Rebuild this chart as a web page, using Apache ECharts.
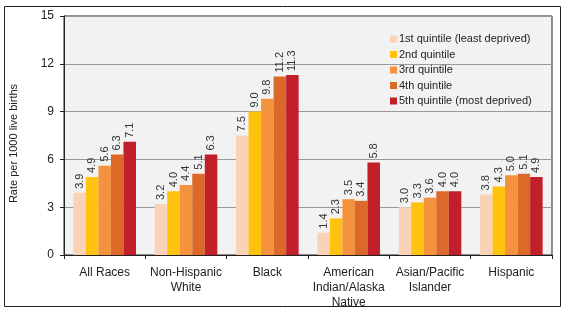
<!DOCTYPE html>
<html>
<head>
<meta charset="utf-8">
<script src="https://cdn.jsdelivr.net/npm/echarts@6/dist/echarts.min.js"></script>
<style>
  html, body { margin: 0; padding: 0; background: #fff; }
  #chart { width: 567px; height: 312px; }
</style>
</head>
<body>
<div id="chart"></div>
<script>
  // 类别与数据
  const categories = ["All Races", "Non-Hispanic\nWhite", "Black", "American\nIndian/Alaska\nNative", "Asian/Pacific\nIslander", "Hispanic"];
  const seriesNames = ["1st quintile (least deprived)", "2nd quintile", "3rd quintile", "4th quintile", "5th quintile (most deprived)"];
  const q1 = [3.9, 3.2, 7.5, 1.4, 3.0, 3.8];
  const q2 = [4.9, 4.0, 9.0, 2.3, 3.3, 4.3];
  const q3 = [5.6, 4.4, 9.8, 3.5, 3.6, 5.0];
  const q4 = [6.3, 5.1, 11.2, 3.4, 4.0, 5.1];
  const q5 = [7.1, 6.3, 11.3, 5.8, 4.0, 4.9];
  const yTicks = [0, 3, 6, 9, 12, 15];

  const colors = ["#fad3b6", "#ffc20e", "#f5923e", "#dc6829", "#c1202b"];
  const font = "'Liberation Sans Narrow', 'Liberation Sans', Arial, sans-serif";

  const chart = echarts.init(document.getElementById("chart"));

  const series = [q1, q2, q3, q4, q5].map((vals, i) => ({
    name: seriesNames[i],
    type: "bar",
    data: vals,
    barGap: "0%",
    barCategoryGap: "23%",
    itemStyle: { color: colors[i] },
    label: {
      show: true,
      position: "top",
      rotate: 90,
      align: "left",
      verticalAlign: "middle",
      distance: 4,
      fontFamily: font,
      fontSize: 11,
      color: "#333",
      formatter: p => p.value.toFixed(1)
    }
  }));

  const option = {
    animation: false,
    backgroundColor: "#fff",
    color: colors,
    grid: {
      left: 59,
      right: 15,
      top: 16,
      bottom: 57,
      show: true,
      backgroundColor: "#f2f2f2",
      borderColor: "#222",
      borderWidth: 1
    },
    // 外框
    graphic: [{
      type: "rect",
      shape: { x: 4.5, y: 6.5, width: 556, height: 300 },
      style: { fill: "none", stroke: "#222", lineWidth: 1 },
      z: 100
    }],
    legend: {
      orient: "vertical",
      left: 385,
      top: 28,
      itemWidth: 7,
      itemHeight: 7,
      itemGap: 3.5,
      icon: "rect",
      textStyle: { fontFamily: font, fontSize: 11, color: "#222", lineHeight: 12, padding: [0, 0, 0, -3] },
      data: seriesNames
    },
    xAxis: {
      type: "category",
      data: categories,
      axisLine: { lineStyle: { color: "#222" } },
      axisTick: { show: true, length: 4, lineStyle: { color: "#222" } },
      axisLabel: { fontFamily: font, fontSize: 12, color: "#222", lineHeight: 15, margin: 10, interval: 0 }
    },
    yAxis: {
      type: "value",
      min: 0,
      max: yTicks[yTicks.length - 1],
      interval: yTicks[1] - yTicks[0],
      name: "Rate per 1000 live births",
      nameLocation: "middle",
      nameRotate: 90,
      nameGap: 45,
      // 名称略向下偏移
      nameTextStyle: { fontFamily: font, fontSize: 11, color: "#222", padding: [0, 16, 0, 0] },
      axisLine: { show: true, lineStyle: { color: "#222" } },
      axisTick: { show: true, inside: false, length: 4, lineStyle: { color: "#222" } },
      axisLabel: { fontFamily: font, fontSize: 12, color: "#222", margin: 10 },
      splitLine: { lineStyle: { color: "#999", width: 1 } }
    },
    series: series
  };

  chart.setOption(option);
  window.addEventListener("resize", () => chart.resize());
</script>
</body>
</html>
